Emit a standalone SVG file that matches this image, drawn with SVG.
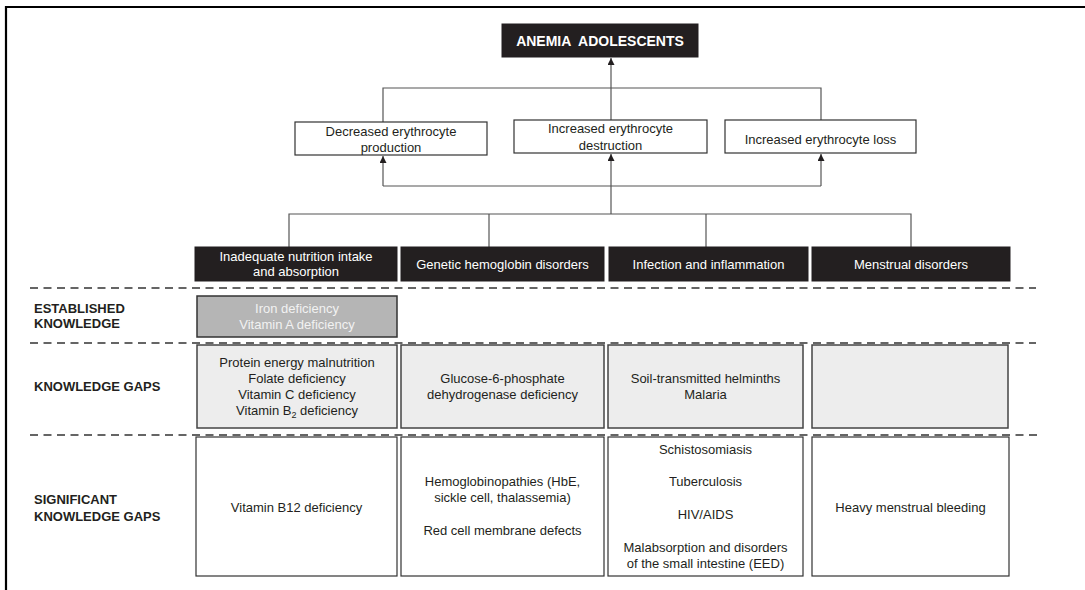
<svg xmlns="http://www.w3.org/2000/svg" width="1085" height="590" viewBox="0 0 1085 590">
<defs>
<marker id="arr" viewBox="0 0 8 8" refX="8" refY="4" markerWidth="7" markerHeight="7" markerUnits="userSpaceOnUse" orient="auto">
<path d="M0,0 L8,4 L0,8 z" fill="#231f20"/>
</marker>
<style>
text{font-family:"Liberation Sans",Arial,sans-serif;font-size:13px;fill:#231f20;text-anchor:middle}
.w{fill:#ffffff}
.lt{fill:#f2f2f2}
.lab{font-weight:bold;text-anchor:start;font-size:13px}
.ttl{font-weight:bold;font-size:14px;white-space:pre}
.bk{fill:#231f20;stroke:#231f20}
.wb{fill:#ffffff;stroke:#333333;stroke-width:1.2}
.gb{fill:#ededed;stroke:#444444;stroke-width:1.5}
.db{fill:#b5b5b5;stroke:#333333;stroke-width:1.5}
.con{fill:none;stroke:#555555;stroke-width:1.2}
.dash{fill:none;stroke:#333333;stroke-width:1.5;stroke-dasharray:8 5.5}
</style>
</defs>
<rect width="1085" height="590" fill="#ffffff"/>
<path d="M6,590 V7 H1085" fill="none" stroke="#000000" stroke-width="2.2"/>

<g id="connectors">
<line class="con" x1="611" y1="120" x2="611" y2="58" marker-end="url(#arr)"/>
<path class="con" d="M383,122 V88 H821 V120"/>
<path class="con" d="M383,186 H821"/>
<line class="con" x1="383" y1="186" x2="383" y2="156" marker-end="url(#arr)"/>
<line class="con" x1="611" y1="186" x2="611" y2="154" marker-end="url(#arr)"/>
<line class="con" x1="821" y1="186" x2="821" y2="154" marker-end="url(#arr)"/>
<line class="con" x1="611" y1="186" x2="611" y2="214"/>
<path class="con" d="M289,247 V214 H911 V247"/>
<line class="con" x1="489" y1="214" x2="489" y2="247"/>
<line class="con" x1="706" y1="214" x2="706" y2="247"/>
</g>

<g id="dividers">
<line class="dash" x1="30" y1="288" x2="1036" y2="288"/>
<line class="dash" x1="30" y1="343" x2="1036" y2="343"/>
<line class="dash" x1="30" y1="435" x2="1040" y2="435"/>
</g>

<g id="title">
<rect class="bk" x="502" y="24" width="196" height="33"/>
<text class="w ttl" x="600" y="46">ANEMIA  ADOLESCENTS</text>
</g>

<g id="decreased-production">
<rect class="wb" x="295" y="122" width="192" height="33"/>
<text x="391" y="135.5">Decreased erythrocyte</text>
<text x="391" y="152">production</text>
</g>
<g id="increased-destruction">
<rect class="wb" x="514" y="120" width="193" height="33"/>
<text x="610.5" y="133">Increased erythrocyte</text>
<text x="610.5" y="149.5">destruction</text>
</g>
<g id="increased-loss">
<rect class="wb" x="725" y="120" width="191" height="33"/>
<text x="820.5" y="143.5">Increased erythrocyte loss</text>
</g>

<g id="cat-nutrition">
<rect class="bk" x="195" y="247" width="202" height="34"/>
<text class="w" x="296" y="260.5">Inadequate nutrition intake</text>
<text class="w" x="296" y="275.5">and absorption</text>
</g>
<g id="cat-genetic">
<rect class="bk" x="401" y="247" width="203" height="34"/>
<text class="w" x="502.5" y="269">Genetic hemoglobin disorders</text>
</g>
<g id="cat-infection">
<rect class="bk" x="609" y="247" width="199" height="34"/>
<text class="w" x="708.5" y="269">Infection and inflammation</text>
</g>
<g id="cat-menstrual">
<rect class="bk" x="812" y="247" width="198" height="34"/>
<text class="w" x="911" y="269">Menstrual disorders</text>
</g>

<g id="label-established">
<text class="lab" x="34" y="312.5">ESTABLISHED</text>
<text class="lab" x="34" y="328">KNOWLEDGE</text>
</g>
<g id="label-gaps">
<text class="lab" x="34" y="391">KNOWLEDGE GAPS</text>
</g>
<g id="label-significant">
<text class="lab" x="34" y="503.5">SIGNIFICANT</text>
<text class="lab" x="34" y="520.5">KNOWLEDGE GAPS</text>
</g>

<g id="est-nutrition">
<rect class="db" x="197" y="296" width="200" height="41"/>
<text class="lt" x="297" y="312.5">Iron deficiency</text>
<text class="lt" x="297" y="328.5">Vitamin A deficiency</text>
</g>

<g id="gap-nutrition">
<rect class="gb" x="197" y="345" width="200" height="83"/>
<text x="297" y="366.5">Protein energy malnutrition</text>
<text x="297" y="382.5">Folate deficiency</text>
<text x="297" y="398.5">Vitamin C deficiency</text>
<text x="297" y="415">Vitamin B<tspan font-size="9" dy="3">2</tspan><tspan dy="-3"> deficiency</tspan></text>
</g>
<g id="gap-genetic">
<rect class="gb" x="401" y="345" width="203" height="83"/>
<text x="502.5" y="382.5">Glucose-6-phosphate</text>
<text x="502.5" y="399">dehydrogenase deficiency</text>
</g>
<g id="gap-infection">
<rect class="gb" x="608" y="345" width="195" height="83"/>
<text x="705.5" y="382.5">Soil-transmitted helminths</text>
<text x="705.5" y="399">Malaria</text>
</g>
<g id="gap-menstrual">
<rect class="gb" x="812" y="345" width="196" height="83"/>
</g>

<g id="sig-nutrition">
<rect class="wb" x="196" y="437" width="201" height="139"/>
<text x="296.5" y="511.5">Vitamin B12 deficiency</text>
</g>
<g id="sig-genetic">
<rect class="wb" x="401" y="437" width="203" height="139"/>
<text x="502.5" y="485.5">Hemoglobinopathies (HbE,</text>
<text x="502.5" y="501.5">sickle cell, thalassemia)</text>
<text x="502.5" y="534.5">Red cell membrane defects</text>
</g>
<g id="sig-infection">
<rect class="wb" x="608" y="437" width="195" height="139"/>
<text x="705.5" y="453.5">Schistosomiasis</text>
<text x="705.5" y="485.5">Tuberculosis</text>
<text x="705.5" y="518.5">HIV/AIDS</text>
<text x="705.5" y="551.5">Malabsorption and disorders</text>
<text x="705.5" y="567.5">of the small intestine (EED)</text>
</g>
<g id="sig-menstrual">
<rect class="wb" x="812" y="437" width="197" height="139"/>
<text x="910.5" y="511.5">Heavy menstrual bleeding</text>
</g>
</svg>
